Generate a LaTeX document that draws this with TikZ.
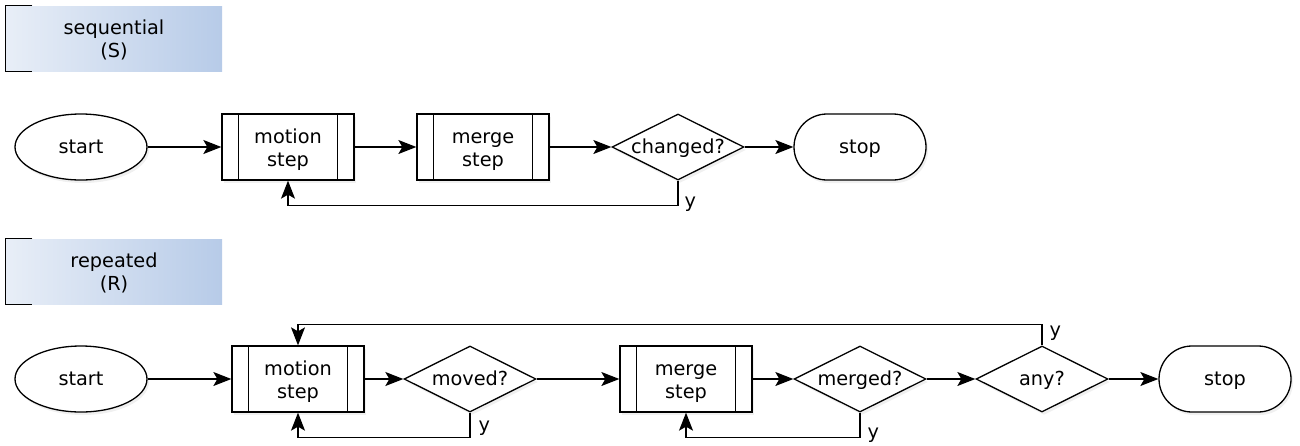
\documentclass[tikz,border=0pt]{standalone}
\usepackage{fontspec}
\setmainfont{DejaVu Sans}
\usetikzlibrary{shapes.geometric,shapes.misc,arrows.meta,shadows}
\newcommand{\lnstrut}{\rule[-4.55pt]{0pt}{22.45pt}}

\begin{document}
\begin{tikzpicture}[x=1pt, y=-1pt, line width=1.3pt,
	every node/.style={font=\fontsize{19.3}{23}\selectfont, inner sep=0pt, align=center},
	blk/.style={draw, fill=white, minimum width=132pt, minimum height=66pt,
		drop shadow={shadow xshift=2pt, shadow yshift=-3pt, opacity=0.12}},
	oneline/.style={execute at begin node=\lnstrut, execute at end node=\lnstrut},
	twoline/.style={text height=42.9pt, text depth=4.55pt},
	terminal/.style={blk, oneline, ellipse},
	endpoint/.style={blk, oneline, rounded rectangle},
	decision/.style={blk, oneline, diamond, shape aspect=2, inner xsep=-6pt},
	proc/.style={blk, twoline, rectangle, path picture={
		\draw ([xshift=16.5pt]path picture bounding box.north west) -- ([xshift=16.5pt]path picture bounding box.south west);
		\draw ([xshift=-16.5pt]path picture bounding box.north east) -- ([xshift=-16.5pt]path picture bounding box.south east);}},
	grouplbl/.style={twoline, left color={rgb,255:red,232;green,238;blue,247}, right color={rgb,255:red,183;green,203;blue,232},
		minimum width=216pt, minimum height=65pt},
	flow/.style={-{Stealth[length=18pt, width=14pt, inset=4pt]}}]
	\useasboundingbox (0,0) rectangle (1300,445);
	% sequential
	\node[grouplbl] (seq) at (114,38.5) {sequential\\(S)};
	\draw ([xshift=27pt]seq.north west) -- (seq.north west) -- (seq.south west) -- ([xshift=27pt]seq.south west);
	\node[terminal] (start1) at (81,147) {start};
	\node[proc] (mot1) at (288,147) {motion\\step};
	\node[proc] (mrg1) at (483,147) {merge\\step};
	\node[decision] (chg) at (678,147) {changed?};
	\node[endpoint] (stop1) at (860,147) {stop};
	\draw[flow] (start1) -- (mot1);
	\draw[flow] (mot1) -- (mrg1);
	\draw[flow] (mrg1) -- (chg);
	\draw[flow] (chg) -- (stop1);
	\draw[flow] (chg.south) -- ++(0,25) -| (mot1.south);
	\node[anchor=base west] (ychg) at (684,207.5) {y};
	% repeated
	\node[grouplbl] (rep) at (114,271.5) {repeated\\(R)};
	\draw ([xshift=27pt]rep.north west) -- (rep.north west) -- (rep.south west) -- ([xshift=27pt]rep.south west);
	\node[terminal] (start2) at (81,379) {start};
	\node[proc] (mot2) at (298,379) {motion\\step};
	\node[decision] (mov) at (470,379) {moved?};
	\node[proc] (mrg2) at (686,379) {merge\\step};
	\node[decision] (mgd) at (860,379) {merged?};
	\node[decision] (any) at (1042,379) {any?};
	\node[endpoint] (stop2) at (1225,379) {stop};
	\draw[flow] (start2) -- (mot2);
	\draw[flow] (mot2) -- (mov);
	\draw[flow] (mov) -- (mrg2);
	\draw[flow] (mrg2) -- (mgd);
	\draw[flow] (mgd) -- (any);
	\draw[flow] (any) -- (stop2);
	\draw[flow] (mov.south) -- ++(0,25) -| (mot2.south);
	\node[anchor=base west] (ymov) at (478,431) {y};
	\draw[flow] (mgd.south) -- ++(0,25) -| (mrg2.south);
	\node[anchor=base west] (ymgd) at (867,438) {y};
	\draw[flow] (any.north) -- ++(0,-21) -| (mot2.north);
	\node[anchor=base west] (yany) at (1049,336) {y};
\end{tikzpicture}
\end{document}
